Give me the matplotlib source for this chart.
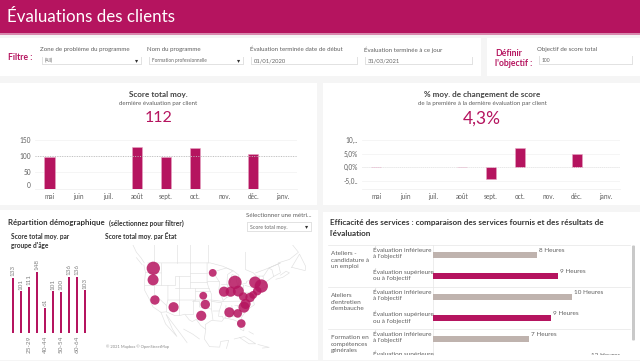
import numpy as np
import matplotlib
matplotlib.use("Agg")
import matplotlib.pyplot as plt
from matplotlib.patches import Rectangle, FancyBboxPatch

W, H = 640, 361
CRIMSON = "#B5145F"
BG = "#F5F5F5"
TXT = "#5E5E5E"
plt.rcParams['font.family'] = ['Lato', 'DejaVu Sans']

months = ["mai", "juin", "juil.", "août", "sept.", "oct.", "nov.", "déc.", "janv."]
score_by_month = [97, np.nan, np.nan, 129, 97, 125, np.nan, 108, np.nan]
change_by_month = [0.1, np.nan, np.nan, 0.1, -4.5, 7.2, np.nan, 5.0, np.nan]
score_ticks = [0, 50, 100, 150]
change_ticks = [-5, 0, 5, 10]
change_labels = ["-5,0..", "0,0%", "5,0%", "10,.."]
target_score = 100

age_scores = [133, 101, 111, 148, 61, 101, 100, 136, 136, 103]
age_labels = ["", "", "25-29", "", "40-44", "", "50-54", "", "60-64", ""]

state_lon = [-120.5, -120.6, -119.8, -111.5, -94.1, -98.3, -97.4, -99.2, -86.7, -83.0, -84.2, -75.3, -72.5, -74.3,
             -89.1, -86.1, -82.7, -80.5, -77.5, -76.1, -80.2, -79.5, -81.4]
state_lat = [47.4, 43.8, 37.0, 34.4, 46.0, 38.5, 35.4, 31.2, 32.5, 32.1, 43.0, 43.0, 41.8, 40.1,
             39.9, 39.9, 40.1, 38.2, 37.9, 38.8, 34.4, 35.6, 28.2]
state_score = [148, 101, 74, 86, 51, 51, 74, 86, 86, 62, 148, 115, 148, 62,
               86, 86, 100, 62, 74, 51, 100, 86, 62]

# Country and state outlines, lon/lat
outlines = [
    [(-124.7, 48.4), (-124, 46.2), (-124.4, 43), (-124.3, 40.3), (-122.4, 37.5), (-120.6, 34.5), (-117.1, 32.5),
     (-114.7, 32.7), (-111, 31.3), (-108.2, 31.4), (-106.5, 31.8), (-104.5, 29.6), (-103.2, 29), (-101.4, 29.8),
     (-99.5, 27.5), (-97.2, 25.9), (-97.4, 27.8), (-94.7, 29.4), (-90, 29.1), (-88.9, 30.4), (-85, 29.7), (-83, 29),
     (-81.8, 26), (-80.3, 25.3), (-80.1, 27), (-81.4, 30.5), (-79, 33.3), (-75.6, 35.3), (-76, 37), (-74, 40.5),
     (-70, 41.6), (-70.7, 43), (-67, 44.9)],
    [(-123, 49), (-95.2, 49), (-89.5, 48), (-84.7, 46.5), (-82.5, 45.3), (-82.4, 43), (-83, 42), (-79, 42.8),
     (-79, 43.3), (-76.5, 44), (-74.7, 45), (-71.5, 45), (-69.2, 47.4), (-67.8, 47), (-67, 44.9)],
    [(-124.5, 49), (-126, 50.5), (-128, 52), (-130, 54.5), (-133, 57)],
    [(-125.5, 48.5), (-128, 50.5)],
    [(-67, 44.9), (-64, 46), (-65, 49), (-60, 50), (-56, 52), (-60, 55), (-64, 59)],
    [(-66, 44), (-63, 44.6), (-60, 46), (-61.5, 46.5), (-64, 45.3)],
    [(-59, 47.7), (-53, 46.7), (-52.8, 48), (-55.5, 51.5), (-59, 47.7)],
    [(-97.2, 25.9), (-97.8, 22), (-95.5, 18.8), (-91, 18.6), (-90.5, 21), (-87, 21.4), (-88, 18)],
    [(-114.7, 31.6), (-112.5, 29), (-109.5, 25.5), (-105.5, 20.5)],
    [(-117.1, 32.5), (-115, 28), (-110, 23), (-112, 26), (-114.7, 31.6)],
    [(-117, 49), (-117, 46), (-117, 42), (-114, 42), (-111, 42), (-111, 45), (-104, 45), (-104, 49)],
    [(-124.2, 42), (-120, 42), (-120, 39), (-114.6, 35), (-114.7, 32.7)],
    [(-120, 42), (-117, 42)],
    [(-124, 46.2), (-119, 46), (-117, 46)],
    [(-114, 42), (-114, 37), (-114.6, 35)],
    [(-114, 37), (-109, 37), (-102, 37), (-94.6, 37), (-89.5, 36.5), (-81.7, 36.6), (-75.9, 36.6)],
    [(-109, 45), (-109, 31.4)],
    [(-111, 41), (-102, 41), (-95.8, 41)],
    [(-104, 45), (-104, 41)],
    [(-104, 43), (-96.5, 43)],
    [(-104, 46), (-96.6, 46)],
    [(-96.6, 49), (-96.6, 43), (-95.8, 41), (-94.6, 39), (-94.6, 33.5), (-94, 29.7)],
    [(-102, 41), (-102, 37), (-103, 37), (-103, 32), (-106.5, 32)],
    [(-103, 36.5), (-100, 36.5), (-100, 34.5), (-94.6, 33.7)],
    [(-102, 40), (-95.3, 40)],
    [(-94.6, 36.5), (-90, 36), (-91.2, 33), (-94, 33)],
    [(-91.2, 33), (-91.5, 31), (-89.7, 31), (-89.5, 30.3)],
    [(-88.2, 35), (-88.4, 30.3)],
    [(-85.6, 35), (-85, 31), (-87.6, 31)],
    [(-85, 31), (-82, 30.6)],
    [(-91.5, 43.5), (-96.5, 43.5)],
    [(-92.3, 46.7), (-92.8, 45), (-91, 43), (-91.4, 40.5), (-89.5, 37), (-89.5, 36.5)],
    [(-90.6, 42.5), (-87.8, 42.5)],
    [(-92, 46.7), (-88, 47.5), (-85, 46.7), (-87.5, 45.5), (-87.8, 42.5), (-87.5, 41.7), (-86.3, 43), (-85.5, 45.5),
     (-83.5, 45), (-83.5, 43.5), (-83, 42)],
    [(-87.5, 41.7), (-87.5, 39), (-88, 37.8), (-89.2, 37)],
    [(-84.8, 41.7), (-84.8, 39), (-82.6, 38.4), (-80.6, 40.6), (-80.5, 42)],
    [(-87.5, 41.7), (-83, 41.7)],
    [(-88, 37.8), (-84.8, 39)],
    [(-82.6, 38.4), (-81.7, 36.6)],
    [(-80.5, 42), (-80.5, 39.7), (-75.7, 39.7), (-75.2, 41), (-79.7, 42)],
    [(-84.3, 35), (-81, 35), (-79, 34)],
    [(-83.2, 35), (-81, 32)],
    [(-73.4, 45), (-73.5, 41)],
    [(-71.8, 45), (-71, 42.8), (-73.4, 42.8)],
    [(-104, 49), (-104, 60)],
    [(-110, 49), (-110, 60)],
    [(-120, 49), (-120, 60)],
    [(-96, 49), (-96, 55), (-89, 57)],
    [(-79.5, 52), (-79.5, 47), (-76, 46), (-74.7, 45)],
    [(-69.2, 47.4), (-64, 49), (-71, 47), (-75, 46)],
    [(-107, 26), (-103, 24), (-100, 22)],
    [(-84.5, 22), (-80, 23), (-75, 20), (-78, 20), (-82, 22.5)],
    [(-74, 19.7), (-69, 18.5), (-72, 18.2)],
    [(-78, 25), (-76, 24)],
]

service_hours = [7.65, 9.26, 10.27, 8.72, 7.09, 11.5]
hour_labels = ["8 Heures", "9 Heures", "10 Heures", "9 Heures", "7 Heures", "12 Heures"]
row_groups = ["Ateliers -\ncandidature à\nun emploi", "Ateliers\nd'entretien\nd'embauche", "Formation en\ncompétences\ngénérales"]
row_labels = ["Évaluation inférieure\nà l'objectif", "Évaluation supérieure\nou à l'objectif"] * 2 + \
             ["Évaluation inférieure\nà l'objectif", "Évaluation supérieure"]
row_tops = [250.3, 271.5, 292.4, 313.7, 334.4, 353.3]
row_colors = ["#BFB3AE", CRIMSON] * 3

fig = plt.figure(figsize=(W / 100, H / 100), dpi=100, facecolor=BG)
bg = fig.add_axes([0, 0, 1, 1])
bg.set_xlim(0, W)
bg.set_ylim(H, 0)
bg.axis("off")

def box(x0, y0, x1, y1, color="white", **kw):
    bg.add_patch(Rectangle((x0, y0), x1 - x0, y1 - y0, facecolor=color, edgecolor="none", **kw))

def txt(x, y, s, size=5, color=TXT, ha="left", va="center", **kw):
    return bg.text(x, y, s, fontsize=size, color=color, ha=ha, va=va, **kw)

def px_axes(x0, y0, x1, y1):
    ax = fig.add_axes([x0 / W, 1 - y1 / H, (x1 - x0) / W, (y1 - y0) / H])
    ax.patch.set_alpha(0)
    return ax

def control(x0, y0, x1, y1, label, arrow=True, size=3.6):
    box(x0, y0, x1, y1, color="#E2E2E2")
    box(x0 + .7, y0 + .7, x1 - .7, y1 - .7)
    txt(x0 + 3, (y0 + y1) / 2, label, size=size, color="#666666")
    if arrow:
        txt(x1 - 5, (y0 + y1) / 2, "▾", size=4.5, color="#333333", ha="center", family="DejaVu Sans")

# Header and panels
box(0, 0, W, 33, CRIMSON)
box(0, 33, W, 34.5, "#D889AE")
txt(7, 17, "Évaluations des clients", size=12.2, color="white")
box(0, 38, 481, 76)
box(487, 38, W, 76)
box(0, 83, 317, 205)
box(323, 83, W, 205)
box(0, 210, 318, 360)
box(323, 212, W, 360)

# Filters
txt(8, 58, "Filtre :", size=6.2, color=CRIMSON, fontweight="bold")
for x, s in [(40, "Zone de problème du programme"), (147, "Nom du programme"),
             (250, "Évaluation terminée date de début"), (364, "Évaluation terminée à ce jour")]:
    txt(x, 49.5, s, size=4.4)
control(42, 56.5, 141.5, 65, "(All)", size=3.3)
control(149, 56.5, 244, 65, "Formation professionnelle", size=3.4)
control(251, 56.5, 358, 65, "01/01/2020", arrow=False, size=4.2)
control(365, 56.5, 473, 65, "31/03/2021", arrow=False, size=4.2)
txt(495, 53, "Définir", size=6.2, color=CRIMSON, fontweight="bold")
txt(495, 64, "l'objectif :", size=6.2, color=CRIMSON, fontweight="bold")
txt(537, 49.5, "Objectif de score total", size=4.4)
control(539, 55.5, 633, 65, "100", arrow=False, size=3.6)

# Month charts
def month_chart(box_px, values, yl, ticks, labels):
    ax = px_axes(*box_px)
    x = np.arange(len(months))
    ax.bar(x, values, width=0.35, color=CRIMSON, edgecolor="#E7A5C3", linewidth=0.4)
    ax.set_xlim(-0.5, 8.5)
    ax.set_ylim(*yl)
    ax.set_yticks(ticks, labels)
    ax.set_xticks(x, months)
    ax.tick_params(length=0, labelsize=4.7, labelcolor=TXT, pad=3)
    ax.grid(axis="y", color="#F1F1F1", linewidth=0.5)
    ax.set_axisbelow(True)
    for s in ["top", "right", "left"]:
        ax.spines[s].set_visible(False)
    ax.spines["bottom"].set_color("#EEEEEE")
    ax.spines["bottom"].set_linewidth(0.5)
    return ax

a1 = month_chart((35, 140, 297, 188.7), score_by_month, (0, 150), score_ticks, [str(t) for t in score_ticks])
a1.axhline(target_score, color="#BDBDBD", linewidth=0.7, linestyle=(0, (1, 1.5)))
a1.get_yticklabels()[0].set_verticalalignment("bottom")
a2 = month_chart((362, 140, 620, 188.7), change_by_month, (-7.9, 10.02), change_ticks, change_labels)
a2.axhline(0, color="#E3E3E3", linewidth=0.6, linestyle=(0, (1, 1.5)), zorder=1)

txt(158.5, 94.5, "Score total moy.", size=5.9, color="#444444", ha="center", fontweight="bold")
txt(158.5, 103.5, "dernière évaluation par client", size=4.4, ha="center")
txt(158.5, 118.5, "112", size=11.5, color=CRIMSON, ha="center")
txt(482, 94.5, "% moy. de changement de score", size=5.9, color="#444444", ha="center", fontweight="bold")
txt(482, 103.5, "de la première à la dernière évaluation par client", size=4.4, ha="center")
txt(482, 118.5, "4,3%", size=12.5, color=CRIMSON, ha="center")

# Demographics
txt(8, 223, "Répartition démographique", size=5.7, color="#333333", fontweight="bold")
txt(109, 223.5, "(sélectionnez pour filtrer)", size=4.8, color="#333333", fontweight="bold")
txt(11, 236.5, "Score total moy. par", size=4.7, color="#333333", fontweight="bold")
txt(11, 245.5, "groupe d'âge", size=4.7, color="#333333", fontweight="bold")
txt(105, 236.5, "Score total moy. par État", size=4.7, color="#333333", fontweight="bold")
txt(246, 215.5, "Sélectionner une métri...", size=4.4)
control(247, 222, 312, 232, "Score total moy.", size=3.8)

a3 = px_axes(9, 245, 89, 333.3)
xa = np.arange(len(age_scores))
a3.bar(xa, age_scores, width=0.25, color=CRIMSON)
a3.set_xlim(-0.54, 9.46)
a3.set_ylim(0, 88.3 / 0.4167)
for xi, v in zip(xa, age_scores):
    a3.text(xi, v + 4, str(v), rotation=90, ha="center", va="bottom", fontsize=4.6, color="#808080")
a3.set_xticks(xa, age_labels, rotation=90)
a3.tick_params(length=0, labelsize=4.6, labelcolor="#808080", pad=2)
a3.set_yticks([])
for s in a3.spines.values():
    s.set_visible(False)

# Map: Web Mercator, 2.25 px per degree
def merc(lat):
    return np.degrees(np.log(np.tan(np.radians(45 + np.asarray(lat, float) / 2))))

map_box = (103, 245, 318, 350)
a4 = px_axes(*map_box)
x0 = -120.5 - (153.3 - map_box[0]) / 2.25
x1 = -120.5 + (map_box[2] - 153.3) / 2.25
ytop = merc(47.4) + (268.3 - map_box[1]) / 2.25
ybot = merc(47.4) - (map_box[3] - 268.3) / 2.25
a4.set_xlim(x0, x1)
a4.set_ylim(ybot, ytop)
a4.axis("off")
for line in outlines:
    lons, lats = zip(*line)
    a4.plot(lons, merc(lats), color="#E0E0E0", linewidth=0.45, solid_joinstyle="round")
a4.scatter(state_lon, merc(state_lat), s=np.array(state_score) * 0.62, color=CRIMSON, alpha=0.85,
           linewidths=0, zorder=3)
txt(106, 347, "© 2021 Mapbox © OpenStreetMap", size=2.9, color="#888888")

# Services
txt(330, 222.5, "Efficacité des services : comparaison des services fournis et des résultats de", size=5.85, color="#333333", fontweight="bold")
txt(330, 233.5, "l'évaluation", size=5.85, color="#333333", fontweight="bold")
a5 = px_axes(433.3, 244.2, 630, 355)
ys = np.arange(len(service_hours))
a5.barh(ys, service_hours, height=0.29, color=row_colors[:len(ys)])
a5.set_xlim(0, 196.7 / 13.5)
a5.set_ylim(4.776, -0.5)
a5.axis("off")
for y, v, s in zip(ys, service_hours, hour_labels):
    a5.text(v + 0.15, y - 0.2, s, fontsize=4.6, color=TXT, va="center", clip_on=True)

for y in [245, 286.5, 328.5]:
    bg.plot([328, 630], [y, y], color="#E6E6E6", linewidth=0.5)
bg.plot([433.3, 433.3], [245, 355], color="#E6E6E6", linewidth=0.5)

clip_rect = Rectangle((320, 245), 320, 110, transform=bg.transData)

def clip_text(x, y, s):
    t = bg.text(x, y, s, fontsize=4.55, color=TXT, va="top", linespacing=1.4)
    t.set_clip_path(clip_rect)
    t.set_clip_on(True)

for i, s in enumerate(row_groups):
    clip_text(331, 251 + 42 * i, s)
for s, y in zip(row_labels, row_tops):
    clip_text(373, y - 3, s)

bg.add_patch(FancyBboxPatch((632.5, 246), 2, 94, boxstyle="round,pad=0.5,rounding_size=1",
                            facecolor="#C9C9C9", edgecolor="none"))

fig.savefig("out.png", dpi=100, facecolor=BG)
